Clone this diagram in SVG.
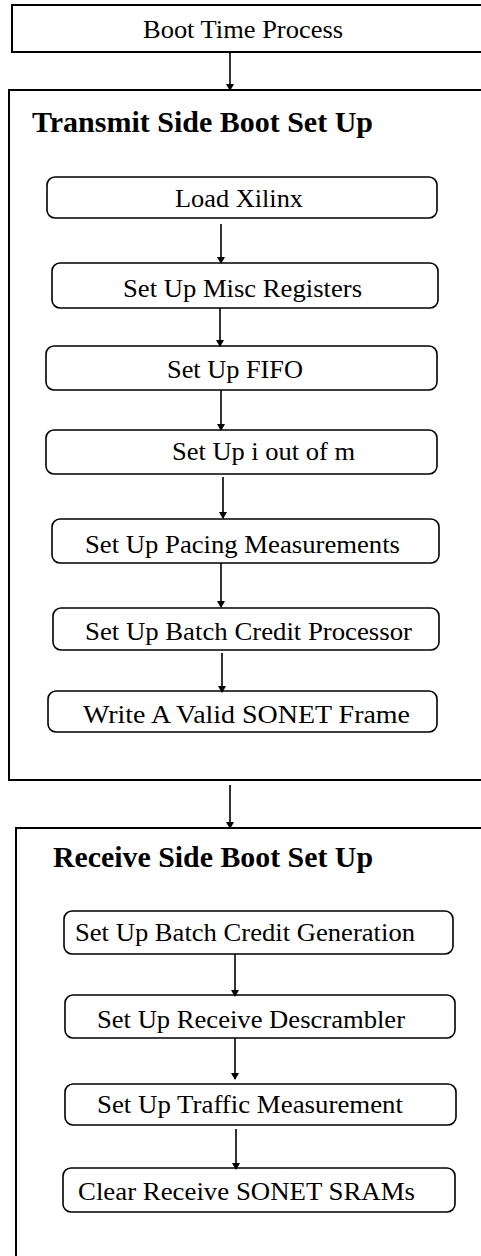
<svg xmlns="http://www.w3.org/2000/svg" width="481" height="1256" viewBox="0 0 481 1256">
<style>
.frame{fill:none;stroke:#000;stroke-width:2}
.node{fill:#fff;stroke:#000;stroke-width:1.6}
.lbl{font-family:"Liberation Serif","Times New Roman",serif;font-size:26px;fill:#000}
.ttl{font-family:"Liberation Serif","Times New Roman",serif;font-size:29px;font-weight:bold;fill:#000}
.conn{stroke:#000;stroke-width:1.6;fill:none}
</style>
<defs>
<marker id="ah" markerWidth="7" markerHeight="11" refX="6" refY="5.5" orient="auto" markerUnits="userSpaceOnUse">
<path d="M0,1.5 L7,5.5 L0,9.5 Z" fill="#000"/>
</marker>
</defs>
<rect width="481" height="1256" fill="#fff"/>
<g id="boot">
<rect class="frame" x="12" y="5" width="480" height="47"/>
<text class="lbl" x="143" y="38" textLength="200" lengthAdjust="spacingAndGlyphs">Boot Time Process</text>
</g>
<g id="transmit">
<rect class="frame" x="9" y="90" width="485" height="690"/>
<text class="ttl" x="32" y="132" textLength="341" lengthAdjust="spacingAndGlyphs">Transmit Side Boot Set Up</text>
</g>
<g id="load-xilinx">
<rect class="node" x="47" y="177" width="390" height="41" rx="8"/>
<text class="lbl" x="175" y="207" textLength="128" lengthAdjust="spacingAndGlyphs">Load Xilinx</text>
</g>
<g id="misc-registers">
<rect class="node" x="52" y="263" width="386" height="45" rx="8"/>
<text class="lbl" x="123" y="297" textLength="239" lengthAdjust="spacingAndGlyphs">Set Up Misc Registers</text>
</g>
<g id="fifo">
<rect class="node" x="46" y="346" width="391" height="44" rx="8"/>
<text class="lbl" x="167" y="378" textLength="136" lengthAdjust="spacingAndGlyphs">Set Up FIFO</text>
</g>
<g id="i-out-of-m">
<rect class="node" x="46" y="430" width="391" height="44" rx="8"/>
<text class="lbl" x="172" y="460" textLength="183" lengthAdjust="spacingAndGlyphs">Set Up i out of m</text>
</g>
<g id="pacing">
<rect class="node" x="52" y="519" width="387" height="44" rx="8"/>
<text class="lbl" x="85" y="553" textLength="315" lengthAdjust="spacingAndGlyphs">Set Up Pacing Measurements</text>
</g>
<g id="batch-credit-processor">
<rect class="node" x="53" y="608" width="386" height="42" rx="8"/>
<text class="lbl" x="85" y="640" textLength="327" lengthAdjust="spacingAndGlyphs">Set Up Batch Credit Processor</text>
</g>
<g id="sonet-frame">
<rect class="node" x="48" y="691" width="389" height="41" rx="8"/>
<text class="lbl" x="83" y="723" textLength="327" lengthAdjust="spacingAndGlyphs">Write A Valid SONET Frame</text>
</g>
<g id="receive">
<rect class="frame" x="16" y="828" width="480" height="440"/>
<text class="ttl" x="53" y="867" textLength="320" lengthAdjust="spacingAndGlyphs">Receive Side Boot Set Up</text>
</g>
<g id="batch-credit-generation">
<rect class="node" x="64" y="911" width="389" height="43" rx="8"/>
<text class="lbl" x="75" y="941" textLength="340" lengthAdjust="spacingAndGlyphs">Set Up Batch Credit Generation</text>
</g>
<g id="descrambler">
<rect class="node" x="65" y="995" width="390" height="43" rx="8"/>
<text class="lbl" x="97" y="1028" textLength="308" lengthAdjust="spacingAndGlyphs">Set Up Receive Descrambler</text>
</g>
<g id="traffic">
<rect class="node" x="65" y="1084" width="391" height="41" rx="8"/>
<text class="lbl" x="97" y="1113" textLength="306" lengthAdjust="spacingAndGlyphs">Set Up Traffic Measurement</text>
</g>
<g id="srams">
<rect class="node" x="63" y="1168" width="392" height="44" rx="8"/>
<text class="lbl" x="78" y="1200" textLength="337" lengthAdjust="spacingAndGlyphs">Clear Receive SONET SRAMs</text>
</g>
<g id="connectors">
<line class="conn" x1="230" y1="52" x2="230" y2="90" marker-end="url(#ah)"/>
<line class="conn" x1="221" y1="224" x2="221" y2="263" marker-end="url(#ah)"/>
<line class="conn" x1="220" y1="308" x2="220" y2="346" marker-end="url(#ah)"/>
<line class="conn" x1="221" y1="390" x2="221" y2="430" marker-end="url(#ah)"/>
<line class="conn" x1="223" y1="477" x2="223" y2="518" marker-end="url(#ah)"/>
<line class="conn" x1="221" y1="563" x2="221" y2="607" marker-end="url(#ah)"/>
<line class="conn" x1="222" y1="653" x2="222" y2="692" marker-end="url(#ah)"/>
<line class="conn" x1="230" y1="785" x2="230" y2="828" marker-end="url(#ah)"/>
<line class="conn" x1="235" y1="954" x2="235" y2="996" marker-end="url(#ah)"/>
<line class="conn" x1="235" y1="1038" x2="235" y2="1079" marker-end="url(#ah)"/>
<line class="conn" x1="236" y1="1129" x2="236" y2="1169" marker-end="url(#ah)"/>
</g>
</svg>
